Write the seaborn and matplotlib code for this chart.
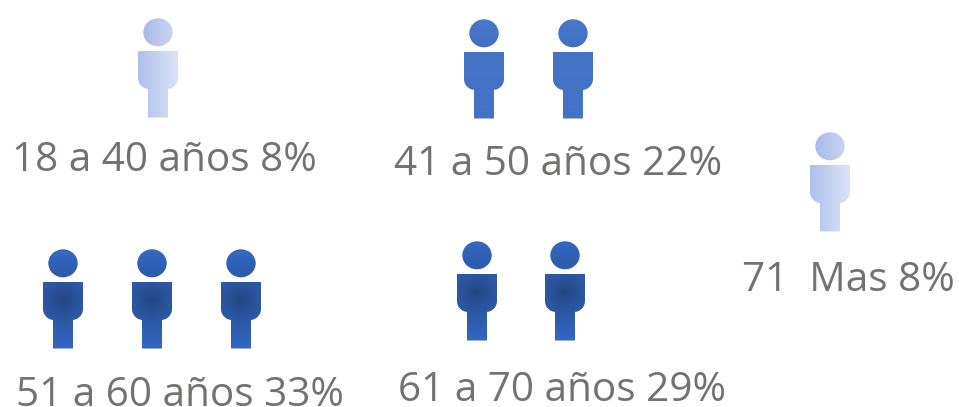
import numpy as np
import matplotlib
matplotlib.use("Agg")
import matplotlib.pyplot as plt
from matplotlib.path import Path
from matplotlib.patches import PathPatch, Ellipse
import seaborn as sns

# data
categories = ["18 a 40 años", "41 a 50 años", "51 a 60 años", "61 a 70 años", "71  Mas"]
percentages = [8, 22, 33, 29, 8]
icon_counts = [1, 2, 3, 2, 1]

# layout (pixels)
icon_x = [[158], [484, 573], [63, 152, 241], [477, 565], [830]]
body_top = [51, 52, 282, 274, 165]
label_x = [12, 394, 16, 398, 742]
label_y = [171, 175, 406, 401, 291]
styles = ["light", "mid", "dark", "dark", "light"]
TEXT = "#767171"
FONT = "Open Sans"
FS = 29.2

sns.set_theme(style="white")
plt.rcParams["font.family"] = [FONT, "DejaVu Sans"]
fig = plt.figure(figsize=(9.59, 4.07), dpi=100)
ax = fig.add_axes([0, 0, 1, 1])
ax.set_axis_off()


def body_path(cx, top):
    hw, lw, r = 20, 10, 11
    sb = top + 38
    foot = top + 66.5
    k = 0.55 * r
    v = [(cx - hw, top), (cx + hw, top), (cx + hw, sb - r),
         (cx + hw, sb - r + k), (cx + hw - r + k, sb), (cx + hw - r, sb),
         (cx + lw, sb), (cx + lw, foot), (cx - lw, foot), (cx - lw, sb),
         (cx - hw + r, sb), (cx - hw + r - k, sb), (cx - hw, sb - r + k), (cx - hw, sb - r),
         (cx - hw, top)]
    c = [Path.MOVETO, Path.LINETO, Path.LINETO,
         Path.CURVE4, Path.CURVE4, Path.CURVE4,
         Path.LINETO, Path.LINETO, Path.LINETO, Path.LINETO,
         Path.LINETO, Path.CURVE4, Path.CURVE4, Path.CURVE4,
         Path.CLOSEPOLY]
    return Path(v, c)


def shade(style, part, w, h):
    yy, xx = np.mgrid[0:1:80j, 0:1:80j]
    if style == "light":
        t = xx
        a, b = ("#A9BBEA", "#C9D4F2") if part == "head" else ("#AFC0EC", "#DCE3F7")
    elif style == "mid":
        t = yy
        a, b = "#4472C4", "#4472C4"
        if part == "head":
            a, b = "#4A78CC", "#4070C0"
    else:
        if part == "head":
            t = yy
            a, b = "#3569C6", "#2B5BA8"
        else:
            d = np.hypot((xx - 0.5) * w, (yy - 0.27) * h)
            t = np.clip(d / 48, 0, 1) ** 0.8
            a, b = "#234682", "#3568C4"
    pal = np.array(sns.blend_palette([a, b], 64))
    return pal[(t * 63).astype(int)]


def gradient(style, part, patch, x0, x1, y0, y1):
    ax.add_patch(patch)
    patch.set_facecolor("none")
    patch.set_edgecolor("none")
    im = ax.imshow(shade(style, part, x1 - x0, y1 - y0), extent=(x0, x1, y1, y0),
                   interpolation="bilinear", aspect="auto", zorder=2)
    im.set_clip_path(patch)


for name, pct, n, xs, top, lx, ly, st in zip(categories, percentages, icon_counts, icon_x,
                                             body_top, label_x, label_y, styles):
    for cx in xs[:n]:
        gradient(st, "body", PathPatch(body_path(cx, top), transform=ax.transData),
                 cx - 20, cx + 20, top, top + 67)
        hy = top - 18.7
        gradient(st, "head", Ellipse((cx, hy), 29.4, 28, transform=ax.transData),
                 cx - 15, cx + 15, hy - 15, hy + 15)
    ax.text(lx, ly, f"{name} {pct}%", color=TEXT, fontsize=FS, ha="left", va="baseline")

ax.set_xlim(0, 959)
ax.set_ylim(407, 0)
fig.savefig("out.png", dpi=100, facecolor="white")
